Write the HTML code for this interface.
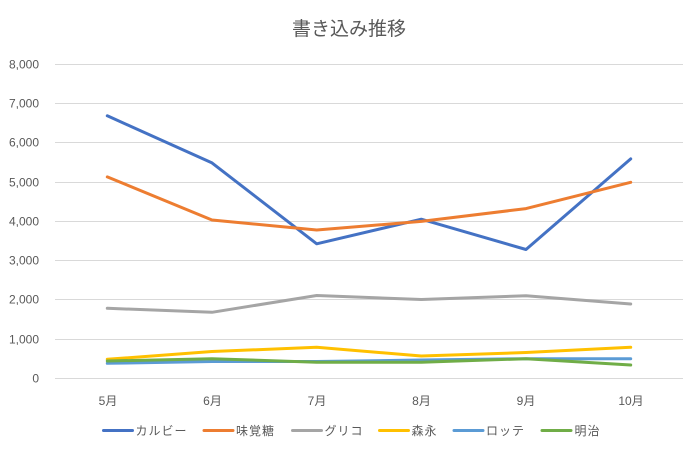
<!DOCTYPE html>
<html>
<head>
<meta charset="utf-8">
<style>
  html, body { margin: 0; padding: 0; background: #ffffff; }
  body { width: 700px; height: 452px; overflow: hidden; }
  svg { display: block; }
  text { font-family: "Liberation Sans", "Noto Sans CJK JP", sans-serif; fill: #595959; }
</style>
</head>
<body>
<svg width="700" height="452" viewBox="0 0 700 452" xmlns="http://www.w3.org/2000/svg">
  <rect x="0" y="0" width="700" height="452" fill="#ffffff"/>
  <!-- title -->
  <text x="349" y="35" font-size="19" text-anchor="middle">書き込み推移</text>

  <!-- gridlines -->
  <g stroke="#d9d9d9" stroke-width="1">
    <line x1="55" y1="64.5" x2="683" y2="64.5"/>
    <line x1="55" y1="103.5" x2="683" y2="103.5"/>
    <line x1="55" y1="142.5" x2="683" y2="142.5"/>
    <line x1="55" y1="182.5" x2="683" y2="182.5"/>
    <line x1="55" y1="221.5" x2="683" y2="221.5"/>
    <line x1="55" y1="260.5" x2="683" y2="260.5"/>
    <line x1="55" y1="299.5" x2="683" y2="299.5"/>
    <line x1="55" y1="339.5" x2="683" y2="339.5"/>
    <line x1="55" y1="378.5" x2="683" y2="378.5"/>
  </g>

  <!-- y labels -->
  <g font-size="12" text-anchor="end">
    <text x="39" y="68.5">8,000</text>
    <text x="39" y="107.5">7,000</text>
    <text x="39" y="146.5">6,000</text>
    <text x="39" y="186.5">5,000</text>
    <text x="39" y="225.5">4,000</text>
    <text x="39" y="264.5">3,000</text>
    <text x="39" y="303.5">2,000</text>
    <text x="39" y="343.5">1,000</text>
    <text x="39" y="382.5">0</text>
  </g>

  <!-- x labels -->
  <g font-size="12" text-anchor="middle">
    <text x="108" y="405">5月</text>
    <text x="212.5" y="405">6月</text>
    <text x="317" y="405">7月</text>
    <text x="421.5" y="405">8月</text>
    <text x="526" y="405">9月</text>
    <text x="631" y="405">10月</text>
  </g>

  <!-- series -->
  <g fill="none" stroke-width="3" stroke-linejoin="round" stroke-linecap="round">
    <polyline stroke="#4472C4" points="107.3,115.8 212,162.9 316.7,243.8 421.3,219.2 526,249.5 630.7,158.9"/>
    <polyline stroke="#ED7D31" points="107.3,176.9 212,220 316.7,230 421.3,221.4 526,208.6 630.7,182.3"/>
    <polyline stroke="#A5A5A5" points="107.3,308.3 212,312.3 316.7,295.5 421.3,299.5 526,295.7 630.7,304"/>
    <polyline stroke="#FFC000" points="107.3,359.3 212,351.5 316.7,347.3 421.3,356 526,352.5 630.7,347.3"/>
    <polyline stroke="#5B9BD5" points="107.3,363.3 212,361.5 316.7,361.5 421.3,360 526,358.7 630.7,358.7"/>
    <polyline stroke="#70AD47" points="107.3,361 212,358.7 316.7,362.3 421.3,362.3 526,358.7 630.7,365"/>
  </g>

  <!-- legend -->
  <g stroke-width="3" stroke-linecap="round">
    <line x1="103.5" y1="430.5" x2="132.5" y2="430.5" stroke="#4472C4"/>
    <line x1="204" y1="430.5" x2="233" y2="430.5" stroke="#ED7D31"/>
    <line x1="292.5" y1="430.5" x2="321.5" y2="430.5" stroke="#A5A5A5"/>
    <line x1="379.5" y1="430.5" x2="408.5" y2="430.5" stroke="#FFC000"/>
    <line x1="454" y1="430.5" x2="483" y2="430.5" stroke="#5B9BD5"/>
    <line x1="542" y1="430.5" x2="571" y2="430.5" stroke="#70AD47"/>
  </g>
  <g font-size="12" letter-spacing="1">
    <text x="135.5" y="435">カルビー</text>
    <text x="236" y="435">味覚糖</text>
    <text x="324.5" y="435">グリコ</text>
    <text x="411.5" y="435">森永</text>
    <text x="486" y="435">ロッテ</text>
    <text x="574.5" y="435">明治</text>
  </g>
</svg>
</body>
</html>
